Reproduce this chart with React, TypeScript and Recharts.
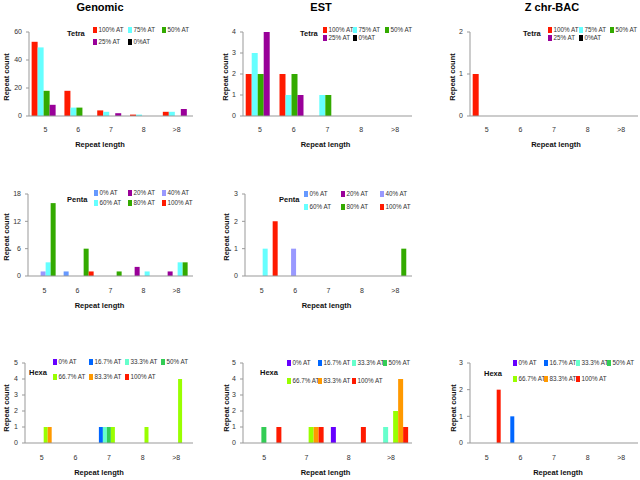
import { BarChart, Bar, XAxis, YAxis, Legend } from "recharts";

const lengths = ["5", "6", "7", "8", ">8"];
const estHexaLengths = ["5", "7", "8", ">8"];

const tetraSeries = ["100% AT", "75% AT", "50% AT", "25% AT", "0%AT"];
const pentaSeries = ["0% AT", "20% AT", "40% AT", "60% AT", "80% AT", "100% AT"];
const hexaSeries = ["0% AT", "16.7% AT", "33.3% AT", "50% AT", "66.7% AT", "83.3% AT", "100% AT"];

const tetraColors = ["#ff1a00", "#66ffff", "#33aa00", "#990099", "#000000"];
const pentaColors = ["#6699ff", "#990099", "#9999ff", "#66ffff", "#33aa00", "#ff1a00"];
const hexaColors = ["#6600ff", "#0066ff", "#66ffcc", "#33cc55", "#99ff00", "#ff9900", "#ff1a00"];

// one row per %AT class, one value per repeat length
const genomicTetra = [
  [53, 18, 4, 1, 3],
  [49, 6, 3, 1, 3],
  [18, 6, 0, 0, 0],
  [8, 0, 2, 0, 5],
  [0, 0, 0, 0, 0],
];
const estTetra = [
  [2, 2, 0, 0, 0],
  [3, 1, 1, 0, 0],
  [2, 2, 1, 0, 0],
  [4, 1, 0, 0, 0],
  [0, 0, 0, 0, 0],
];
const bacTetra = [
  [1, 0, 0, 0, 0],
  [0, 0, 0, 0, 0],
  [0, 0, 0, 0, 0],
  [0, 0, 0, 0, 0],
  [0, 0, 0, 0, 0],
];
const genomicPenta = [
  [0, 1, 0, 0, 0],
  [0, 0, 0, 2, 1],
  [1, 0, 0, 0, 0],
  [3, 0, 0, 1, 3],
  [16, 6, 1, 0, 3],
  [0, 1, 0, 0, 0],
];
const estPenta = [
  [0, 0, 0, 0, 0],
  [0, 0, 0, 0, 0],
  [0, 1, 0, 0, 0],
  [1, 0, 0, 0, 0],
  [0, 0, 0, 0, 1],
  [2, 0, 0, 0, 0],
];
const genomicHexa = [
  [0, 0, 0, 0, 0],
  [0, 0, 1, 0, 0],
  [0, 0, 1, 0, 0],
  [0, 0, 1, 0, 0],
  [1, 0, 1, 1, 4],
  [1, 0, 0, 0, 0],
  [0, 0, 0, 0, 0],
];
const estHexa = [
  [0, 0, 1, 0],
  [0, 0, 0, 0],
  [0, 0, 0, 1],
  [1, 0, 0, 0],
  [0, 1, 0, 2],
  [0, 1, 0, 4],
  [1, 1, 1, 1],
];
const bacHexa = [
  [0, 0, 0, 0, 0],
  [0, 1, 0, 0, 0],
  [0, 0, 0, 0, 0],
  [0, 0, 0, 0, 0],
  [0, 0, 0, 0, 0],
  [0, 0, 0, 0, 0],
  [2, 0, 0, 0, 0],
];

const genomicTetraTicks = [0, 20, 40, 60];
const estTetraTicks = [0, 1, 2, 3, 4];
const bacTetraTicks = [0, 1, 2];
const genomicPentaTicks = [0, 6, 12, 18];
const estPentaTicks = [0, 1, 2, 3];
const hexaTicks = [0, 1, 2, 3, 4, 5];
const bacHexaTicks = [0, 1, 2, 3];

const FONT = "Arial, 'Liberation Sans', sans-serif";
const AXIS = "#999";

function toRows(cats: string[], values: number[][]) {
  return cats.map((c, i) => {
    const row: Record<string, any> = { len: c };
    values.forEach((s, j) => (row["s" + j] = s[i]));
    return row;
  });
}

type Geo = { cols: number[]; rows: number[]; titleX: number; titleY: number };

function Key({ names, colors, group, geo }: { names: string[]; colors: string[]; group: string; geo: Geo }) {
  return (
    <div style={{ position: "relative", width: "100%", height: "100%", fontFamily: FONT }}>
      <span
        style={{
          position: "absolute",
          left: geo.titleX,
          top: geo.titleY - 5,
          fontSize: 7.5,
          fontWeight: "bold",
          lineHeight: "10px",
          color: "#111",
        }}
      >
        {group}
      </span>
      {names.map((n, i) => {
        const c = i % geo.cols.length;
        const r = Math.floor(i / geo.cols.length);
        return (
          <div
            key={n}
            style={{
              position: "absolute",
              left: geo.cols[c],
              top: geo.rows[r] - 4,
              height: 8,
              display: "flex",
              alignItems: "center",
              whiteSpace: "nowrap",
            }}
          >
            <span style={{ display: "inline-block", width: 4, height: 6, background: colors[i], marginRight: 1.5 }} />
            <span style={{ fontSize: 6.3, color: "#333", lineHeight: "8px" }}>{n}</span>
          </div>
        );
      })}
    </div>
  );
}

type PanelProps = {
  left: number;
  top: number;
  width: number;
  yw: number;
  right: number;
  plotTop: number;
  axisY: number;
  cats: string[];
  values: number[][];
  names: string[];
  colors: string[];
  ticks: number[];
  group: string;
  geo: Geo;
  countX: number;
  countDy: number;
  lengthDx: number;
  lengthOffset: number;
  tickGap: number;
};

function Panel(p: PanelProps) {
  const H = 160;
  const xh = 34;
  const data = toRows(p.cats, p.values);
  const edges = Array.from({ length: p.cats.length + 1 }, (_, i) => i);
  return (
    <div style={{ position: "absolute", left: p.left, top: p.top }}>
      <BarChart
        width={p.width}
        height={H}
        data={data}
        margin={{ top: p.plotTop, right: p.right, bottom: H - p.axisY - xh, left: 0 }}
        barCategoryGap="8%"
        barGap={0}
      >
        <XAxis
          xAxisId="edge"
          type="number"
          domain={[0, p.cats.length]}
          ticks={edges}
          tick={false}
          tickSize={3}
          tickLine={{ stroke: AXIS }}
          axisLine={false}
          height={0}
        />
        <XAxis
          dataKey="len"
          height={xh}
          tickSize={0}
          tickMargin={p.tickGap}
          axisLine={{ stroke: AXIS }}
          tick={{ fontSize: 7, fill: "#333", fontFamily: FONT }}
          label={{
            value: "Repeat length",
            position: "insideBottom",
            offset: p.lengthOffset,
            dx: p.lengthDx,
            style: { fontSize: 7.5, fontWeight: "bold", fill: "#111", fontFamily: FONT },
          }}
        />
        <YAxis
          width={p.yw}
          domain={[0, p.ticks[p.ticks.length - 1]]}
          ticks={p.ticks}
          interval={0}
          tickSize={3}
          tickMargin={4}
          tickLine={{ stroke: AXIS }}
          axisLine={{ stroke: AXIS }}
          tick={{ fontSize: 7, fill: "#333", fontFamily: FONT }}
          label={{
            value: "Repeat count",
            angle: -90,
            position: "insideLeft",
            offset: p.countX,
            dy: p.countDy,
            style: { textAnchor: "middle", fontSize: 7.5, fontWeight: "bold", fill: "#111", fontFamily: FONT },
          }}
        />
        <Legend
          layout="horizontal"
          verticalAlign="middle"
          align="center"
          wrapperStyle={{ left: 0, top: 0, width: p.width, height: H, pointerEvents: "none" }}
          content={() => <Key names={p.names} colors={p.colors} group={p.group} geo={p.geo} />}
        />
        {p.names.map((n, i) => (
          <Bar key={n} dataKey={"s" + i} name={n} fill={p.colors[i]} isAnimationActive={false} />
        ))}
      </BarChart>
    </div>
  );
}

const titleStyle = {
  position: "absolute" as const,
  top: 1,
  width: 120,
  textAlign: "center" as const,
  fontFamily: FONT,
  fontWeight: "bold" as const,
  fontSize: 11,
  lineHeight: "13px",
  color: "#000",
};

export default function App() {
  return (
    <div style={{ position: "absolute", left: 0, top: 0, width: 640, height: 480, background: "#fff", overflow: "hidden" }}>
      <div style={{ ...titleStyle, left: 100 - 60 }}>Genomic</div>
      <div style={{ ...titleStyle, left: 321 - 60 }}>EST</div>
      <div style={{ ...titleStyle, left: 552 - 60 }}>Z chr-BAC</div>

      <Panel left={0} top={0} width={213} yw={29} right={20} plotTop={32} axisY={116}
        cats={lengths} values={genomicTetra} names={tetraSeries} colors={tetraColors} ticks={genomicTetraTicks}
        group="Tetra" geo={{ cols: [93, 128, 162], rows: [30, 42], titleX: 67, titleY: 33.5 }}
        countX={6} countDy={3} lengthDx={-11} lengthOffset={3} tickGap={11} />
      <Panel left={210} top={0} width={213} yw={33} right={11} plotTop={32} axisY={116}
        cats={lengths} values={estTetra} names={tetraSeries} colors={tetraColors} ticks={estTetraTicks}
        group="Tetra" geo={{ cols: [113, 143, 175], rows: [30, 37.5], titleX: 90, titleY: 33.5 }}
        countX={15} countDy={3} lengthDx={-2} lengthOffset={3} tickGap={11} />
      <Panel left={420} top={0} width={220} yw={50} right={2} plotTop={32} axisY={116}
        cats={lengths} values={bacTetra} names={tetraSeries} colors={tetraColors} ticks={bacTetraTicks}
        group="Tetra" geo={{ cols: [128, 159, 190], rows: [30, 37.5], titleX: 103, titleY: 33.5 }}
        countX={32} countDy={3} lengthDx={2} lengthOffset={3} tickGap={11} />

      <Panel left={0} top={160} width={213} yw={28} right={20} plotTop={34} axisY={116}
        cats={lengths} values={genomicPenta} names={pentaSeries} colors={pentaColors} ticks={genomicPentaTicks}
        group="Penta" geo={{ cols: [94, 128, 162], rows: [32.5, 42.5], titleX: 67, titleY: 39.5 }}
        countX={6} countDy={2} lengthDx={-11} lengthOffset={2} tickGap={12} />
      <Panel left={210} top={160} width={213} yw={35} right={11} plotTop={34} axisY={116}
        cats={lengths} values={estPenta} names={pentaSeries} colors={pentaColors} ticks={estPentaTicks}
        group="Penta" geo={{ cols: [94, 131, 170], rows: [33.5, 47], titleX: 69, titleY: 40 }}
        countX={16} countDy={2} lengthDx={-2} lengthOffset={2} tickGap={12} />

      <Panel left={0} top={320} width={213} yw={25} right={20} plotTop={43} axisY={123}
        cats={lengths} values={genomicHexa} names={hexaSeries} colors={hexaColors} ticks={hexaTicks}
        group="Hexa" geo={{ cols: [53, 89, 125, 161], rows: [42, 56.5], titleX: 29, titleY: 53 }}
        countX={6} countDy={5} lengthDx={-10} lengthOffset={2} tickGap={12} />
      <Panel left={210} top={320} width={213} yw={33} right={11} plotTop={43} axisY={123}
        cats={estHexaLengths} values={estHexa} names={hexaSeries} colors={hexaColors} ticks={hexaTicks}
        group="Hexa" geo={{ cols: [77, 108, 142, 173], rows: [43, 60.5], titleX: 50, titleY: 53 }}
        countX={16} countDy={5} lengthDx={-2} lengthOffset={2} tickGap={12} />
      <Panel left={420} top={320} width={220} yw={50} right={2} plotTop={43} axisY={123}
        cats={lengths} values={bacHexa} names={hexaSeries} colors={hexaColors} ticks={bacHexaTicks}
        group="Hexa" geo={{ cols: [93, 124, 156, 187], rows: [43, 59], titleX: 64, titleY: 54 }}
        countX={33} countDy={5} lengthDx={4} lengthOffset={2} tickGap={12} />
    </div>
  );
}
